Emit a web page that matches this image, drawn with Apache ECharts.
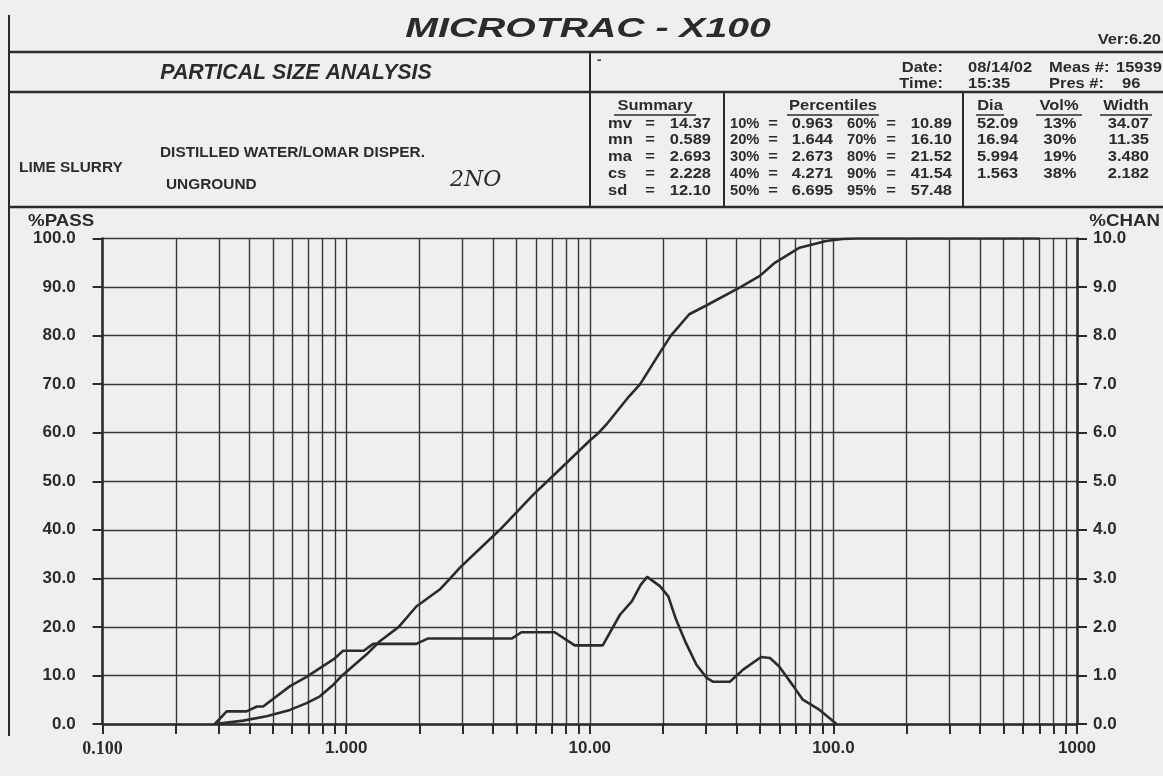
<!DOCTYPE html>
<html>
<head>
<meta charset="utf-8">
<script src="https://cdn.jsdelivr.net/npm/echarts@6/dist/echarts.min.js"></script>
<style>
  html, body { margin: 0; padding: 0; background: #efefef; }
  #chart { width: 1163px; height: 776px; }
</style>
</head>
<body>
<div id="chart"></div>
<script>
// cumulative %PASS curve (diameter in microns)
var passSize = [0.289, 0.378, 0.471, 0.588, 0.688, 0.78, 0.886, 0.963, 1.21, 1.37, 1.644, 1.94, 2.42, 2.673,
  2.93, 4.271, 5.0, 5.85, 6.695, 8.0, 10.0, 10.89, 11.7, 14.5, 16.10, 19.4, 21.52, 25.6, 29.8, 41.54,
  49.9, 57.48, 72.6, 93.4, 109, 124.5, 704]
var passPct = [0, 0.7, 1.6, 2.9, 4.3, 5.7, 8.1, 10, 14.3, 17, 20, 24.2, 27.7, 30,
  32.2, 40, 43.6, 47.2, 50, 53.7, 58.4, 60, 61.7, 67.5, 70, 76.5, 80, 84.4, 86.1, 90,
  92.3, 95, 98.1, 99.5, 99.9, 100, 100]

// channel %CHAN curve
var chanSize = [0.289, 0.323, 0.390, 0.43, 0.456, 0.588, 0.688, 0.78, 0.886, 0.972, 1.18, 1.29, 1.94, 2.16,
  4.78, 5.24, 7.18, 8.67, 11.3, 13.3, 14.9, 16.2, 17.2, 19.4, 21.0, 22.6, 24.8, 27.4, 30.2, 32.1,
  37.6, 42.6, 50.5, 54.9, 59.8, 68.5, 74.9, 87.8, 103]
var chanPct = [0, 0.26, 0.26, 0.36, 0.36, 0.78, 0.97, 1.15, 1.33, 1.51, 1.51, 1.65, 1.65, 1.76,
  1.76, 1.89, 1.89, 1.62, 1.62, 2.25, 2.53, 2.87, 3.03, 2.84, 2.63, 2.15, 1.67, 1.22, 0.95, 0.87,
  0.87, 1.12, 1.38, 1.36, 1.19, 0.78, 0.50, 0.29, 0]

var xLabelValues = [0.1, 1, 10, 100, 1000]
var xLabelText = ['0.100', '1.000', '10.00', '100.0', '1000']

// grid lines at 1..9 of every decade
var gridValues = []
for (var e = -1; e < 3; e++) {
  for (var k = 1; k < 10; k++) gridValues.push(+(k * Math.pow(10, e)).toPrecision(3))
}
gridValues.push(1000)

var summary = [['mv', '14.37'], ['mn', '0.589'], ['ma', '2.693'], ['cs', '2.228'], ['sd', '12.10']]
var percentiles = [['10%', '0.963', '60%', '10.89'], ['20%', '1.644', '70%', '16.10'], ['30%', '2.673', '80%', '21.52'],
  ['40%', '4.271', '90%', '41.54'], ['50%', '6.695', '95%', '57.48']]
var peaks = [['52.09', '13%', '34.07'], ['16.94', '30%', '11.35'], ['5.994', '19%', '3.480'], ['1.563', '38%', '2.182']]

var ink = '#2b2b2b'
var sans = '"Liberation Sans", Arial, sans-serif'

function txt(x, y, text, opt) {
  opt = opt || {}
  return {
    type: 'text', x: x, y: y, scaleX: opt.scaleX || 1.1, silent: true,
    style: {
      text: text, fill: ink,
      font: (opt.font || 'bold 15px') + ' ' + (opt.family || sans),
      align: opt.align || 'left', textAlign: opt.align || 'left',
      verticalAlign: 'middle', textVerticalAlign: 'middle'
    }
  }
}
function ln(x1, y1, x2, y2, w) {
  return { type: 'line', silent: true, shape: { x1: x1, y1: y1, x2: x2, y2: y2 }, style: { stroke: ink, lineWidth: w || 2 } }
}

var g = []
// frame
g.push(ln(9, 15, 9, 736, 2))
g.push(ln(9, 52, 1163, 52, 2.5))
g.push(ln(9, 92, 1163, 92, 2.5))
g.push(ln(9, 207, 1163, 207, 2.5))
g.push(ln(590, 52, 590, 207, 2))
g.push(ln(724, 92, 724, 207, 2))
g.push(ln(963, 92, 963, 207, 2))

g.push(txt(588, 30, 'MICROTRAC - X100', { font: 'italic bold 27px', align: 'center', scaleX: 1.45 }))
g.push(txt(1161, 40, 'Ver:6.20', { font: 'bold 15px', align: 'right' }))
g.push(txt(296, 73, 'PARTICAL SIZE ANALYSIS', { font: 'italic bold 22px', align: 'center', scaleX: 0.97 }))
g.push(txt(597, 61, '-', { font: 'bold 12px' }))

g.push(txt(943, 68, 'Date:', { align: 'right' }))
g.push(txt(943, 84, 'Time:', { align: 'right' }))
g.push(txt(968, 68, '08/14/02'))
g.push(txt(968, 84, '15:35'))
g.push(txt(1049, 68, 'Meas #:'))
g.push(txt(1116, 68, '15939'))
g.push(txt(1049, 84, 'Pres #:'))
g.push(txt(1122, 84, '96'))

g.push(txt(160, 153, 'DISTILLED WATER/LOMAR DISPER.', { font: 'bold 14px' }))
g.push(txt(19, 168, 'LIME SLURRY', { font: 'bold 14px' }))
g.push(txt(166, 185, 'UNGROUND', { font: 'bold 14px' }))
g.push(txt(450, 180, '2NO', { font: 'italic 22px', family: '"DejaVu Serif", serif', scaleX: 1 }))

// summary table
var rowY = [124, 140, 157, 174, 191]
var headY = 106
g.push(txt(655, headY, 'Summary', { align: 'center' }))
g.push(ln(614, headY + 9, 696, headY + 9, 1.5))
g.push(txt(833, headY, 'Percentiles', { align: 'center' }))
g.push(ln(787, headY + 9, 879, headY + 9, 1.5))
g.push(txt(990, headY, 'Dia', { align: 'center' }))
g.push(ln(976, headY + 9, 1004, headY + 9, 1.5))
g.push(txt(1059, headY, 'Vol%', { align: 'center' }))
g.push(ln(1036, headY + 9, 1082, headY + 9, 1.5))
g.push(txt(1126, headY, 'Width', { align: 'center' }))
g.push(ln(1100, headY + 9, 1152, headY + 9, 1.5))
summary.forEach(function (r, i) {
  g.push(txt(608, rowY[i], r[0]))
  g.push(txt(650, rowY[i], '=', { align: 'center' }))
  g.push(txt(711, rowY[i], r[1], { align: 'right' }))
})
var pct = { font: 'bold 14px', scaleX: 1.05 }
percentiles.forEach(function (r, i) {
  g.push(txt(730, rowY[i], r[0], pct))
  g.push(txt(773, rowY[i], '=', { align: 'center' }))
  g.push(txt(833, rowY[i], r[1], { align: 'right' }))
  g.push(txt(847, rowY[i], r[2], pct))
  g.push(txt(891, rowY[i], '=', { align: 'center' }))
  g.push(txt(952, rowY[i], r[3], { align: 'right' }))
})
peaks.forEach(function (r, i) {
  g.push(txt(977, rowY[i], r[0]))
  g.push(txt(1060, rowY[i], r[1], { align: 'center' }))
  g.push(txt(1149, rowY[i], r[2], { align: 'right' }))
})

// axis names
g.push(txt(28, 221, '%PASS', { font: 'bold 17px' }))
g.push(txt(1160, 221, '%CHAN', { font: 'bold 17px', align: 'right' }))

var dom = document.getElementById('chart')
var myChart = echarts.init(dom, null, { renderer: 'canvas' })
var axisText = { color: ink, fontWeight: 'bold', fontSize: 17, fontFamily: sans }
var gridLine = { color: '#383838', width: 1.4 }
var option = {
  backgroundColor: '#efefef',
  animation: false,
  grid: { left: 102.6, right: 86, top: 238.5, bottom: 52 },
  graphic: { elements: g },
  xAxis: {
    type: 'log', logBase: 10, min: 0.1, max: 1000,
    axisLine: { show: true, onZero: false, lineStyle: { color: ink, width: 2.5 } },
    axisTick: { show: true, length: 10, customValues: gridValues, lineStyle: { color: ink, width: 2 } },
    axisLabel: Object.assign({
      margin: 16, customValues: xLabelValues,
      formatter: function (v) {
        var i = 0
        xLabelValues.forEach(function (x, j) { if (Math.abs(Math.log10(v) - Math.log10(x)) < 0.01) i = j })
        return i === 0 ? '{s|' + xLabelText[0] + '}' : xLabelText[i]
      },
      rich: { s: { fontFamily: '"Liberation Serif", serif', fontSize: 18, color: ink } }
    }, axisText),
    splitLine: { show: true, lineStyle: gridLine },
    minorTick: { show: false }
  },
  yAxis: [
    {
      type: 'value', min: 0, max: 100, interval: 10, position: 'left',
      axisLine: { show: true, lineStyle: { color: ink, width: 2.5 } },
      axisTick: { show: true, length: 10, lineStyle: { color: ink, width: 2 } },
      axisLabel: Object.assign({ margin: 27, formatter: function (v) { return v.toFixed(1) } }, axisText),
      splitLine: { show: true, lineStyle: gridLine }
    },
    {
      type: 'value', min: 0, max: 10, interval: 1, position: 'right',
      axisLine: { show: true, lineStyle: { color: ink, width: 2.5 } },
      axisTick: { show: true, length: 10, lineStyle: { color: ink, width: 2 } },
      axisLabel: Object.assign({ margin: 16, formatter: function (v) { return v.toFixed(1) } }, axisText),
      splitLine: { show: false }
    }
  ],
  series: [
    {
      name: '%PASS', type: 'line', yAxisIndex: 0, symbol: 'none',
      lineStyle: { color: ink, width: 2.6 },
      data: passSize.map(function (d, i) { return [d, passPct[i]] })
    },
    {
      name: '%CHAN', type: 'line', yAxisIndex: 1, symbol: 'none',
      lineStyle: { color: ink, width: 2.6 },
      data: chanSize.map(function (d, i) { return [d, chanPct[i]] })
    }
  ]
}
myChart.setOption(option)
</script>
</body>
</html>
